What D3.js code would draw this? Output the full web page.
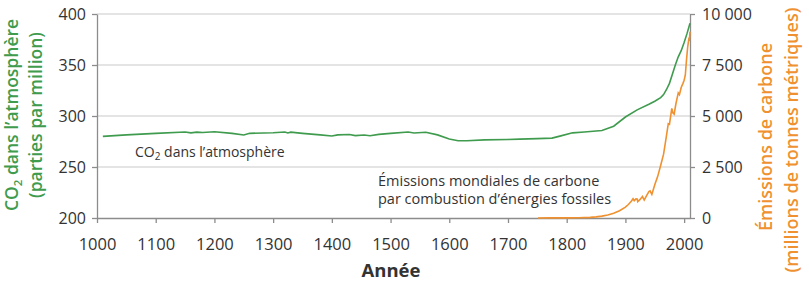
<!DOCTYPE html>
<html>
<head>
<meta charset="utf-8">
<script src="https://cdn.jsdelivr.net/npm/d3@7"></script>
<style>
  body { margin: 0; background: #fff; }
  svg { display: block; font-family: "Open Sans", sans-serif; }
</style>
</head>
<body>
<div id="chart"></div>
<script>
// CO2 concentration (ppm)
var co2Years = [1010, 1050, 1100, 1150, 1160, 1170, 1180, 1200, 1230, 1250, 1260, 1300, 1320, 1325, 1330, 1350, 1380, 1400, 1410, 1430, 1440, 1455, 1465, 1480, 1500, 1530, 1540, 1560, 1580, 1600, 1615, 1630, 1660, 1700, 1720, 1750, 1775, 1790, 1810, 1830, 1860, 1880, 1900, 1920, 1940, 1950, 1960, 1965, 1970, 1975, 1980, 1985, 1990, 1995, 2000, 2005, 2010];
var co2Values = [280, 281.5, 283, 284.3, 283.5, 284.2, 283.8, 284.5, 283, 281.4, 283, 283.6, 284.3, 283.4, 284.2, 283, 281.5, 280.4, 281.5, 281.8, 280.8, 281.3, 280.6, 282, 283, 284.3, 283.4, 284, 281.5, 277.5, 275.8, 275.8, 276.6, 277, 277.3, 277.8, 278.3, 280.5, 283.5, 284.3, 285.8, 290, 299, 306, 311.5, 314.5, 318, 321, 326, 332, 341, 350, 358, 364, 372, 381, 391];

// fossil fuel carbon emissions (million metric tons)
var emYears = [1751, 1770, 1790, 1800, 1820, 1840, 1850, 1860, 1870, 1880, 1890, 1900, 1905, 1910, 1913, 1915, 1918, 1920, 1921, 1925, 1929, 1932, 1937, 1940, 1942, 1945, 1946, 1950, 1955, 1960, 1965, 1970, 1973, 1975, 1979, 1981, 1983, 1986, 1990, 1992, 1995, 1998, 2000, 2002, 2004, 2006, 2008, 2009, 2010];
var emValues = [3, 4, 6, 8, 14, 33, 54, 91, 147, 236, 356, 534, 663, 819, 943, 850, 935, 932, 803, 910, 1050, 878, 1150, 1299, 1330, 1160, 1250, 1630, 2040, 2577, 3130, 4053, 4620, 4590, 5370, 5140, 5090, 5600, 6130, 6050, 6400, 6600, 6750, 7000, 7740, 8370, 8770, 8740, 9130];

var xTicks = [1000, 1100, 1200, 1300, 1400, 1500, 1600, 1700, 1800, 1900, 2000];
var leftTicks = [200, 250, 300, 350, 400];
var rightTicks = [0, 2500, 5000, 7500, 10000];

var svgWidth = 809;
var svgHeight = 284;
var margin = { top: 14, right: 119, bottom: 66, left: 97 };
var width = svgWidth - margin.left - margin.right;
var height = svgHeight - margin.top - margin.bottom;

var green = "#3f9b4e";
var orange = "#ef9130";
var axisGray = "#8c8c8c";
var textColor = "#333";

var svg = d3.select("#chart")
  .append("svg")
  .attr("width", svgWidth)
  .attr("height", svgHeight);

var chartGroup = svg.append("g")
  .attr("transform", `translate(${margin.left}, ${margin.top})`);

var xScale = d3.scaleLinear().domain([1000, 2010]).range([0, width]);
var yLeft = d3.scaleLinear().domain([200, 400]).range([height, 0]);
var yRight = d3.scaleLinear().domain([0, 10000]).range([height, 0]);

// gridlines
chartGroup.append("g")
  .selectAll("line")
  .data(leftTicks.slice(1))
  .enter()
  .append("line")
  .attr("x1", 0)
  .attr("x2", width)
  .attr("y1", d => yLeft(d))
  .attr("y2", d => yLeft(d))
  .attr("stroke", "#c9c9c9")
  .attr("stroke-width", 1.2);

// axes
var fmtSpace = d3.formatLocale({ thousands: " ", grouping: [3], decimal: ",", currency: ["", ""] }).format(",");

var bottomAxis = d3.axisBottom(xScale).tickValues(xTicks).tickFormat(d3.format("d")).tickSize(5).tickSizeOuter(0);
var leftAxis = d3.axisLeft(yLeft).tickValues(leftTicks).tickSize(5).tickSizeOuter(0).tickPadding(6);
var rightAxis = d3.axisRight(yRight).tickValues(rightTicks).tickFormat(fmtSpace).tickSize(5).tickSizeOuter(0).tickPadding(7);

var xAxisG = chartGroup.append("g")
  .attr("transform", `translate(0, ${height})`)
  .call(bottomAxis);

chartGroup.append("g").call(leftAxis);
chartGroup.append("g").attr("transform", `translate(${width}, 0)`).call(rightAxis);

chartGroup.selectAll(".domain, .tick line")
  .attr("stroke", axisGray)
  .attr("stroke-width", 1.3);
chartGroup.selectAll(".tick text")
  .attr("fill", textColor)
  .style("font-size", "16px")
  .style("font-family", "'Open Sans', sans-serif");
xAxisG.selectAll("text")
  .attr("dy", "1.45em")
  .style("font-size", "16.5px");

// lines
var co2Data = co2Years.map((y, i) => ({ year: y, value: co2Values[i] }));
var emData = emYears.map((y, i) => ({ year: y, value: emValues[i] }));

chartGroup.append("path")
  .datum(co2Data)
  .attr("fill", "none")
  .attr("stroke", green)
  .attr("stroke-width", 1.6)
  .attr("d", d3.line().x(d => xScale(d.year)).y(d => yLeft(d.value)));

chartGroup.append("path")
  .datum(emData)
  .attr("fill", "none")
  .attr("stroke", orange)
  .attr("stroke-width", 1.6)
  .attr("d", d3.line().x(d => xScale(d.year)).y(d => yRight(d.value)));

// annotations
var ann1 = svg.append("text")
  .attr("x", 135)
  .attr("y", 157)
  .attr("fill", textColor)
  .style("font-size", "14px");
ann1.append("tspan").text("CO");
ann1.append("tspan").text("2").style("font-size", "10px").attr("dy", 3);
ann1.append("tspan").text(" dans l\u2019atmosph\u00e8re").attr("dy", -3);

svg.append("text")
  .attr("x", 378)
  .attr("y", 186)
  .attr("fill", textColor)
  .style("font-size", "14.5px")
  .text("\u00c9missions mondiales de carbone");
svg.append("text")
  .attr("x", 378)
  .attr("y", 204)
  .attr("fill", textColor)
  .style("font-size", "14.5px")
  .text("par combustion d\u2019\u00e9nergies fossiles");

// axis titles
svg.append("text")
  .attr("x", 391)
  .attr("y", 277)
  .attr("text-anchor", "middle")
  .attr("fill", textColor)
  .style("font-size", "18.5px")
  .style("font-weight", "700")
  .text("Ann\u00e9e");

var lt1 = svg.append("text")
  .attr("transform", "translate(18, 115) rotate(-90)")
  .attr("text-anchor", "middle")
  .attr("fill", green)
  .style("font-size", "17.5px")
  .style("font-weight", "600");
lt1.append("tspan").text("CO");
lt1.append("tspan").text("2").style("font-size", "11.5px").attr("dy", 4);
lt1.append("tspan").text(" dans l\u2019atmosph\u00e8re").attr("dy", -4);

svg.append("text")
  .attr("transform", "translate(42, 115) rotate(-90)")
  .attr("text-anchor", "middle")
  .attr("fill", green)
  .style("font-size", "17.5px")
  .style("font-weight", "600")
  .text("(parties par million)");

svg.append("text")
  .attr("transform", "translate(772, 137) rotate(-90)")
  .attr("text-anchor", "middle")
  .attr("fill", orange)
  .style("font-size", "18px")
  .style("font-weight", "600")
  .text("\u00c9missions de carbone");

svg.append("text")
  .attr("transform", "translate(798, 140) rotate(-90)")
  .attr("text-anchor", "middle")
  .attr("fill", orange)
  .style("font-size", "18px")
  .style("font-weight", "600")
  .text("(millions de tonnes m\u00e9triques)");
</script>
</body>
</html>
